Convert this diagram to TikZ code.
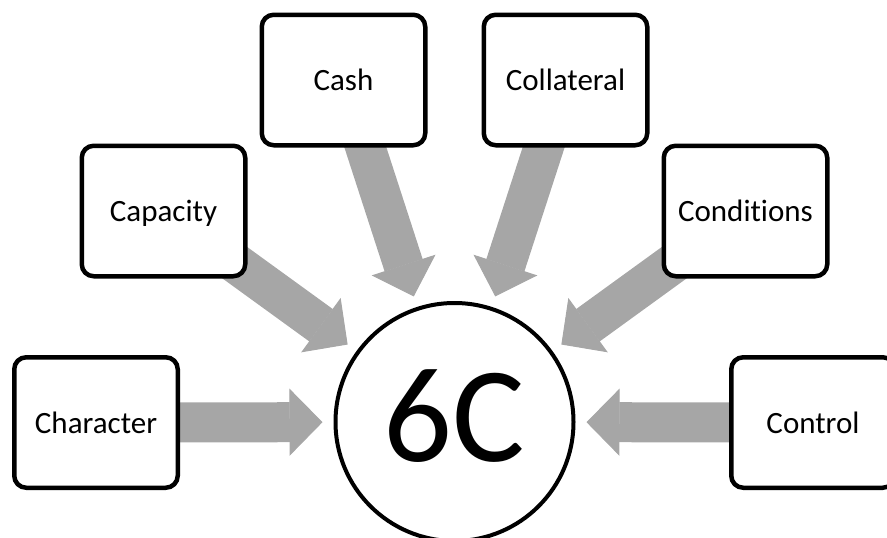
\documentclass[tikz,border=0pt]{standalone}
\usepackage{fontspec}
\setmainfont[Ligatures=NoCommon]{Carlito}
\usetikzlibrary{arrows.meta,calc,backgrounds}
\definecolor{flowgray}{HTML}{A6A6A6}
\tikzset{
  cbox/.style={draw=black, fill=white, line width=4.5pt, rounded corners=12pt,
    minimum width=163.5pt, minimum height=130.5pt, inner sep=0pt,
    text height=21.5pt, text depth=0pt, font=\fontsize{31}{37}\selectfont},
  hubnode/.style={circle, draw=black, fill=white, line width=4pt,
    minimum size=238pt, inner sep=0pt, text height=79.4pt, text depth=0pt,
    font=\fontsize{136}{160}\selectfont},
  flow/.style={draw=flowgray, line width=40pt,
    -{Triangle[length=33pt,width=67pt,line width=1pt]}}
}
\begin{document}
\begin{tikzpicture}[x=1pt,y=-1pt]
  \useasboundingbox (0,0) rectangle (887,538);
  % centre
  \node[hubnode] (hub) at (454.5,422) {6C};
  % the six factors
  \node[cbox] (character)  at (96,422.5)  {Character};
  \node[cbox] (capacity)   at (163.5,211) {Capacity};
  \node[cbox] (cash)       at (343.5,80)  {Cash};
  \node[cbox] (collateral) at (565.5,80)  {Collateral};
  \node[cbox] (conditions) at (745.5,211) {Conditions};
  \node[cbox] (control)    at (813,422.5) {Control};
  % broad arrows pointing at the centre
  \begin{scope}[on background layer]
    \foreach \b in {character,capacity,cash,collateral,conditions,control}
      \draw[flow] (\b.center) -- ($(hub.center)!132pt!(\b.center)$);
  \end{scope}
\end{tikzpicture}
\end{document}
